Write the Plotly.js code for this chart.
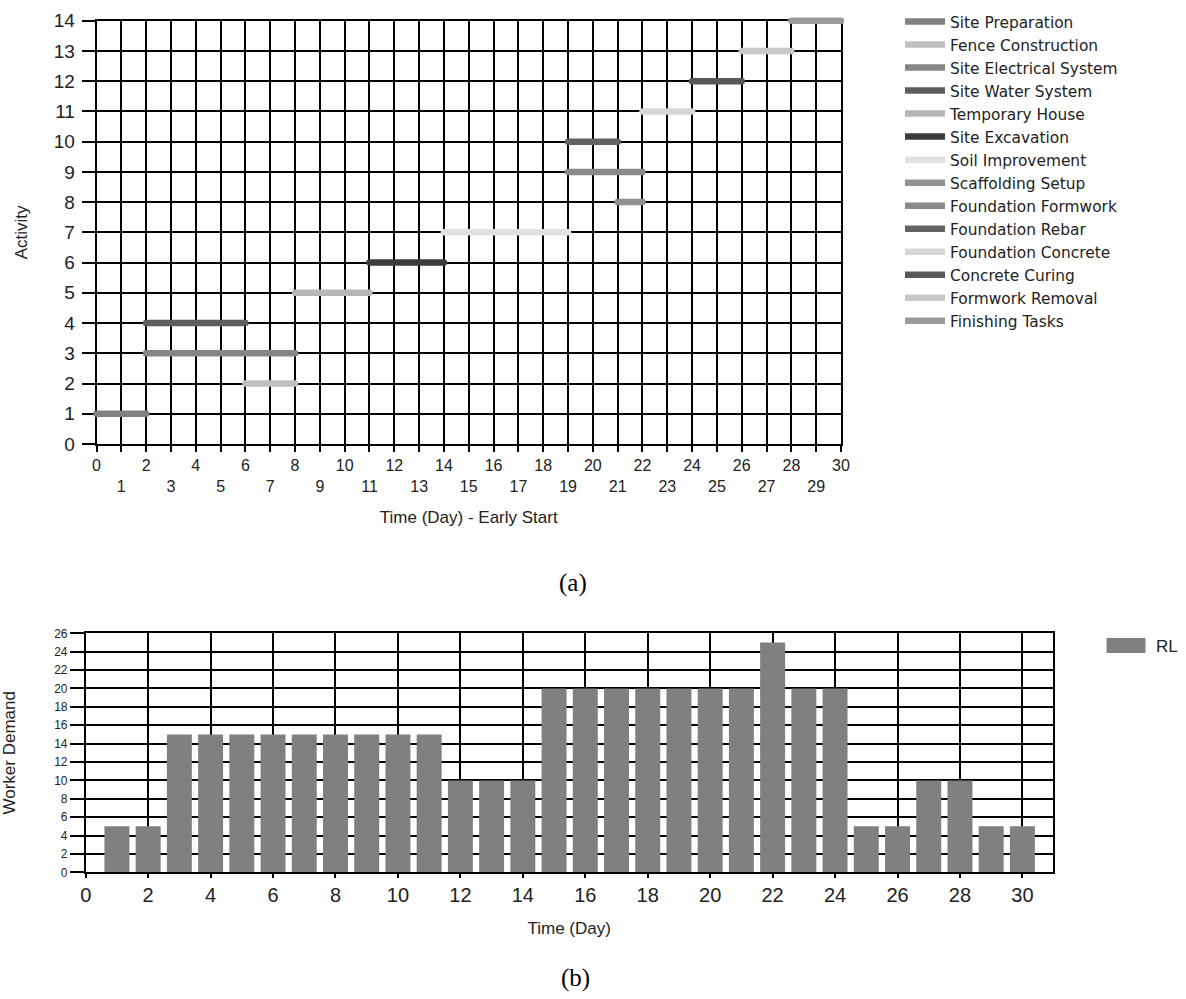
<!DOCTYPE html>
<html>
<head>
<meta charset="utf-8">
<script src="https://cdn.plot.ly/plotly-3.0.1.min.js"></script>
<style>
  html, body { margin: 0; padding: 0; background: #fff; }
  #chart { width: 1186px; height: 999px; }
  .scatterlayer .js-line { stroke-linecap: round; }
  .legend2 .legendpoints path { transform: translate(20px, 0px) scale(3.25, 1.25); }
</style>
</head>
<body>
<div id="chart"></div>
<script>
// ---- Data (a): activity schedule, early start ----
const activities = [
  "Site Preparation", "Fence Construction", "Site Electrical System", "Site Water System",
  "Temporary House", "Site Excavation", "Soil Improvement", "Scaffolding Setup",
  "Foundation Formwork", "Foundation Rebar", "Foundation Concrete", "Concrete Curing",
  "Formwork Removal", "Finishing Tasks"
];
const activityRow = [1, 2, 3, 4, 5, 6, 7, 8, 9, 10, 11, 12, 13, 14];
const startDay    = [0, 6, 2, 2, 8, 11, 14, 21, 19, 19, 22, 24, 26, 28];
const endDay      = [2, 8, 8, 6, 11, 14, 19, 22, 22, 21, 24, 26, 28, 30];

// ---- Data (b): worker demand per day ----
const days = [1,2,3,4,5,6,7,8,9,10,11,12,13,14,15,16,17,18,19,20,21,22,23,24,25,26,27,28,29,30];
const workerDemand = [5,5,15,15,15,15,15,15,15,15,15,10,10,10,20,20,20,20,20,20,20,25,20,20,5,5,10,10,5,5];

// ---- Tick labels ----
const dayTickVals = [0,1,2,3,4,5,6,7,8,9,10,11,12,13,14,15,16,17,18,19,20,21,22,23,24,25,26,27,28,29,30];
const dayTickText = ["0","1","2","3","4","5","6","7","8","9","10","11","12","13","14","15",
                     "16","17","18","19","20","21","22","23","24","25","26","27","28","29","30"];
const demandTickVals = [0,2,4,6,8,10,12,14,16,18,20,22,24,26];
const dayTickVals2 = [0,2,4,6,8,10,12,14,16,18,20,22,24,26,28,30];

// ---- Styles / layout geometry ----
const lineColors = ["#808080", "#c0c0c0", "#868686", "#5e5e5e", "#b6b6b6", "#3c3c3c", "#e2e2e2",
                    "#909090", "#8a8a8a", "#626262", "#d6d6d6", "#585858", "#c8c8c8", "#9a9a9a"];
const W = 1186, H = 999;
const xd = (a, b) => [a / W, b / W];
const yd = (top, bottom) => [1 - bottom / H, 1 - top / H];
const sans = "Liberation Sans, Arial, sans-serif";
const txt = "#222";

// top plot box in pixels
const TL = 96.5, TR = 841, TT = 20.7, TB = 444;
const xMax = 30, yMax = 14;
const pxPerX = (TR - TL) / xMax, pxPerY = (TB - TT) / yMax;
const pad = 10; // un-clipped overlay subplot, same scale, slightly larger box

// staggered labels: odd days on a second row
const staggered = dayTickText.map((t, i) => (dayTickVals[i] % 2 === 1 ? "<br>" + t : t));

// empty trace so the gridded (a) subplot is created
const traces = [{
  type: "scatter", mode: "lines", x: [], y: [], xaxis: "x", yaxis: "y",
  showlegend: false, hoverinfo: "skip"
}];

activities.forEach((name, i) => traces.push({
  type: "scatter",
  mode: "lines",
  name: name,
  x: [startDay[i], endDay[i]],
  y: [activityRow[i], activityRow[i]],
  xaxis: "x3", yaxis: "y3",
  line: { color: lineColors[i], width: 6.5 },
  cliponaxis: false,
  legend: "legend",
  hoverinfo: "name+x+y"
}));

traces.push({
  type: "bar",
  name: "RL",
  x: days,
  y: workerDemand,
  xaxis: "x2", yaxis: "y2",
  marker: { color: "#808080", line: { width: 0 } },
  legend: "legend2"
});

const gridCommon = {
  showgrid: true, gridcolor: "#000", gridwidth: 1.5,
  zeroline: false, ticks: "outside", tickcolor: "#000", tickwidth: 1.5,
  showline: true, mirror: true, linecolor: "#000", linewidth: 1.5
};

const layout = {
  width: W, height: H,
  margin: { l: 0, r: 0, t: 0, b: 0 },
  paper_bgcolor: "#fff", plot_bgcolor: "rgba(0,0,0,0)",
  showlegend: true,
  bargap: 0.2,
  font: { family: sans, color: txt },
  xaxis: Object.assign({}, gridCommon, {
    domain: xd(TL, TR), range: [0, xMax], anchor: "y",
    tickmode: "array", tickvals: dayTickVals, ticktext: staggered,
    ticklen: 6, tickfont: { size: 16, family: sans, color: txt },
    title: { text: "Time (Day) - Early Start", font: { size: 17, family: sans, color: txt }, standoff: 17 }
  }),
  yaxis: Object.assign({}, gridCommon, {
    domain: yd(TT, TB), range: [0, yMax], anchor: "x",
    tickmode: "linear", tick0: 0, dtick: 1,
    ticklen: 13, tickfont: { size: 19, family: sans, color: txt }, ticklabelstandoff: 3,
    title: { text: "Activity", font: { size: 17, family: sans, color: txt }, standoff: 22 }
  }),
  xaxis3: {
    domain: xd(TL - pad, TR + pad), range: [-pad / pxPerX, xMax + pad / pxPerX],
    anchor: "y3", visible: false, showgrid: false, zeroline: false
  },
  yaxis3: {
    domain: yd(TT - pad, TB + pad), range: [-pad / pxPerY, yMax + pad / pxPerY],
    anchor: "x3", visible: false, showgrid: false, zeroline: false
  },
  xaxis2: Object.assign({}, gridCommon, {
    domain: xd(85.7, 1052.7), range: [0, 30.97], anchor: "y2",
    tickmode: "array", tickvals: dayTickVals2,
    ticklen: 4, tickfont: { size: 20, family: sans, color: txt },
    title: { text: "Time (Day)", font: { size: 17, family: sans, color: txt }, standoff: 17 }
  }),
  yaxis2: Object.assign({}, gridCommon, {
    domain: yd(633.3, 872.3), range: [0, 26], anchor: "x2",
    tickmode: "array", tickvals: demandTickVals,
    ticklen: 14, tickfont: { size: 12, family: sans, color: txt },
    title: { text: "Worker Demand", font: { size: 17, family: sans, color: txt }, standoff: 43 }
  }),
  legend: {
    x: 900 / W, y: 1 - 5 / H, xanchor: "left", yanchor: "top",
    bgcolor: "rgba(0,0,0,0)", borderwidth: 0, itemwidth: 40,
    font: { family: "DejaVu Sans, sans-serif", size: 15.4, color: txt },
    traceorder: "normal"
  },
  legend2: {
    x: 1106 / W, y: 1 - 628 / H, xanchor: "left", yanchor: "top",
    bgcolor: "rgba(0,0,0,0)", borderwidth: 0, itemwidth: 40,
    font: { family: sans, size: 17, color: txt }
  },
  annotations: [
    { text: "(a)", x: 573 / W, y: 1 - 583 / H, xref: "paper", yref: "paper",
      showarrow: false, xanchor: "center", yanchor: "middle",
      font: { family: "Liberation Serif, Times New Roman, serif", size: 25, color: "#000" } },
    { text: "(b)", x: 575 / W, y: 1 - 978 / H, xref: "paper", yref: "paper",
      showarrow: false, xanchor: "center", yanchor: "middle",
      font: { family: "Liberation Serif, Times New Roman, serif", size: 25, color: "#000" } }
  ]
};

Plotly.newPlot("chart", traces, layout, { displayModeBar: false, responsive: false });
</script>
</body>
</html>
